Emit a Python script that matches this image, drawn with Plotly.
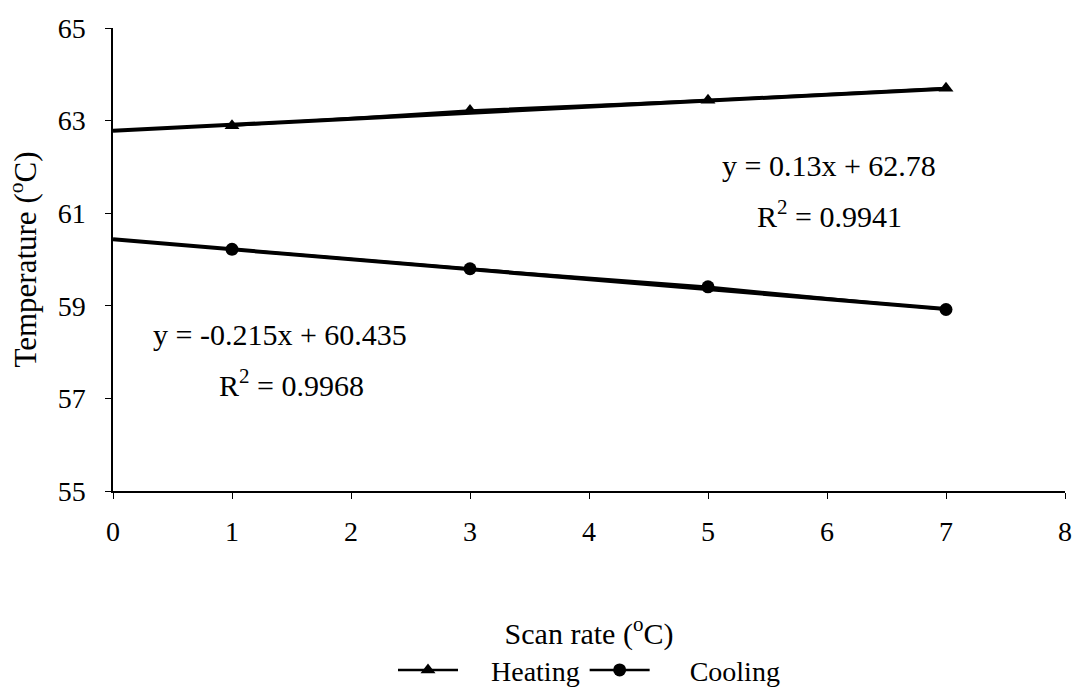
import plotly.graph_objects as go

scan_rate = [1, 3, 5, 7]
heating = [62.89, 63.22, 63.44, 63.70]
cooling = [60.22, 59.80, 59.41, 58.92]

trend_x = [0, 7]
heat_slope, heat_int = 0.13, 62.78
cool_slope, cool_int = -0.215, 60.435

FONT = "Liberation Serif"
FS = 27

fig = go.Figure()

# trendlines
fig.add_trace(go.Scatter(x=trend_x, y=[heat_int + heat_slope * x for x in trend_x],
                         mode="lines", line=dict(color="black", width=4),
                         showlegend=False, hoverinfo="skip"))
fig.add_trace(go.Scatter(x=trend_x, y=[cool_int + cool_slope * x for x in trend_x],
                         mode="lines", line=dict(color="black", width=4),
                         showlegend=False, hoverinfo="skip"))

fig.add_trace(go.Scatter(x=scan_rate, y=heating, mode="lines+markers",
                         name="&nbsp;&nbsp;&nbsp;&nbsp;Heating",
                         line=dict(color="black", width=2.5),
                         marker=dict(symbol="triangle-up", size=13, color="black")))
fig.add_trace(go.Scatter(x=scan_rate, y=cooling, mode="lines+markers",
                         name="&nbsp;&nbsp;&nbsp;&nbsp;&nbsp;Cooling",
                         line=dict(color="black", width=2.5),
                         marker=dict(symbol="circle", size=13, color="black")))

ann_font = dict(family=FONT, size=30, color="black")
fig.add_annotation(x=6.02, y=62.02, text="y = 0.13x + 62.78", showarrow=False, font=ann_font)
fig.add_annotation(x=6.02, y=60.98, text="R<sup>2</sup> = 0.9941", showarrow=False, font=ann_font)
fig.add_annotation(x=1.4, y=58.37, text="y = -0.215x + 60.435", showarrow=False, font=ann_font)
fig.add_annotation(x=1.5, y=57.33, text="R<sup>2</sup> = 0.9968", showarrow=False, font=ann_font)

fig.update_layout(
    width=1076, height=690,
    margin=dict(l=113, r=11, t=28, b=199, autoexpand=False),
    plot_bgcolor="white", paper_bgcolor="white",
    font=dict(family=FONT, size=FS, color="black"),
    xaxis=dict(range=[0, 8], tick0=0, dtick=1, showgrid=False, zeroline=False,
               showline=True, linecolor="black", linewidth=2,
               ticks="outside", ticklen=6, tickcolor="black",
               ticklabelstandoff=8, automargin=False,
               tickfont=dict(family=FONT, size=28),
               title=dict(text="Scan rate (<sup>o</sup>C)", standoff=77,
                          font=dict(family=FONT, size=30))),
    yaxis=dict(range=[55, 65], tick0=55, dtick=2, showgrid=False, zeroline=False,
               showline=True, linecolor="black", linewidth=1.5,
               ticks="outside", ticklen=6, tickcolor="black",
               ticklabelstandoff=14, automargin=False,
               tickfont=dict(family=FONT, size=28),
               title=dict(text="Temperature (<sup>o</sup>C)", standoff=12,
                          font=dict(family=FONT, size=31))),
    legend=dict(orientation="h", x=0.5, xanchor="center", y=-0.387, yanchor="middle",
                font=dict(family=FONT, size=28), itemwidth=60),
)

fig.write_html("out.html")
